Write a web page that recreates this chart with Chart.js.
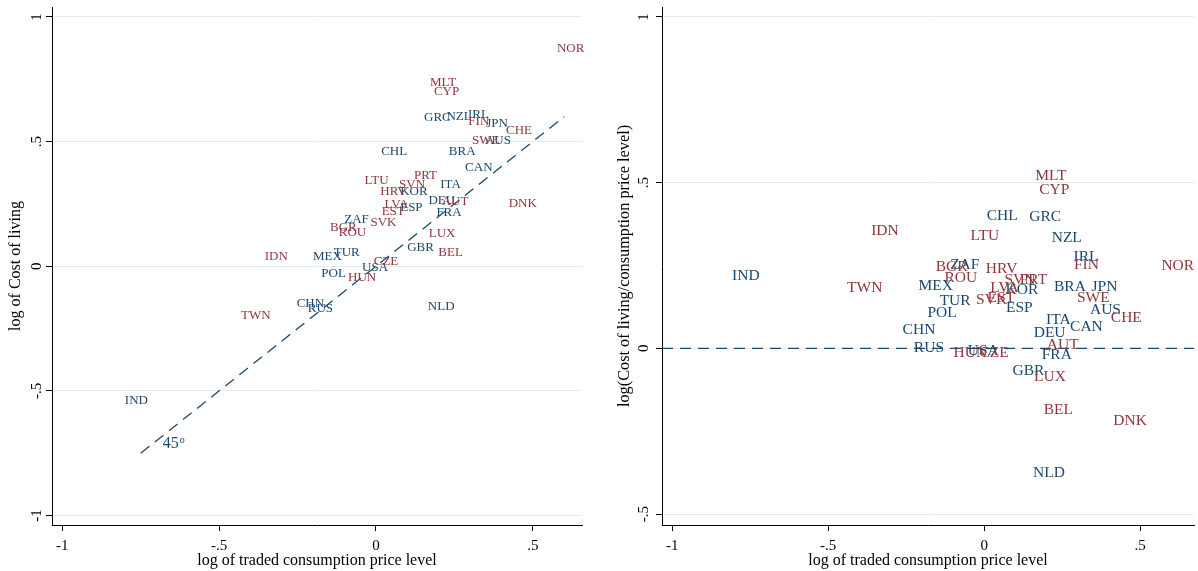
<!DOCTYPE html>
<html>
<head>
<meta charset="utf-8">
<script src="https://cdn.jsdelivr.net/npm/chart.js@4.4.0/dist/chart.umd.min.js"></script>
<style>
  body { margin: 0; background: #fff; }
  #wrap { position: relative; width: 1198px; height: 571px; }
  #left { position: absolute; left: 0; top: 0; }
  #right { position: absolute; left: 600px; top: 0; }
</style>
</head>
<body>
<div id="wrap">
  <canvas id="left" width="600" height="571"></canvas>
  <canvas id="right" width="598" height="571"></canvas>
</div>
<script>
// 数据
const countries = ['NOR','MLT','CYP','GRC','NZL','IRL','FIN','JPN','CHE','SWE','AUS','CHL','BRA','CAN','LTU','PRT','SVN','ITA','HRV','KOR','DEU','AUT','DNK','LVA','EST','ESP','FRA','ZAF','SVK','BGR','ROU','LUX','GBR','BEL','IDN','MEX','TUR','CZE','USA','POL','HUN','CHN','RUS','NLD','TWN','IND'];
// log of traded consumption price level
const priceLevel = [0.621,0.214,0.225,0.196,0.265,0.327,0.328,0.386,0.456,0.350,0.389,0.058,0.275,0.328,0.002,0.158,0.115,0.238,0.056,0.121,0.210,0.252,0.468,0.065,0.055,0.113,0.233,-0.062,0.024,-0.104,-0.075,0.211,0.142,0.238,-0.318,-0.155,-0.093,0.032,-0.003,-0.135,-0.044,-0.209,-0.177,0.208,-0.383,-0.764];
// log of Cost of living
const costOfLiving = [0.875,0.736,0.699,0.596,0.600,0.607,0.580,0.573,0.546,0.506,0.504,0.459,0.459,0.395,0.343,0.362,0.326,0.326,0.298,0.298,0.263,0.259,0.251,0.248,0.219,0.236,0.216,0.189,0.177,0.154,0.136,0.130,0.074,0.054,0.037,0.037,0.054,0.018,-0.006,-0.031,-0.046,-0.149,-0.171,-0.162,-0.197,-0.540];
// log(Cost of living/consumption price level)
const relCost = [0.248,0.521,0.478,0.396,0.334,0.276,0.251,0.184,0.091,0.151,0.116,0.400,0.184,0.065,0.339,0.206,0.206,0.085,0.240,0.176,0.047,0.010,-0.219,0.181,0.151,0.123,-0.020,0.251,0.146,0.246,0.214,-0.086,-0.068,-0.186,0.355,0.188,0.144,-0.015,-0.007,0.106,-0.013,0.055,0.000,-0.375,0.181,0.220];
// 红色标签的国家
const redGroup = ['NOR','MLT','CYP','FIN','CHE','SWE','LTU','PRT','SVN','HRV','AUT','DNK','LVA','EST','SVK','BGR','ROU','LUX','BEL','IDN','CZE','HUN','TWN'];

const xTicks = [-1, -0.5, 0, 0.5];
const yTicksLeft = [-1, -0.5, 0, 0.5, 1];
const yTicksRight = [-0.5, 0, 0.5, 1];
const line45 = [-0.75, 0.6];      // 45度线的起点和终点
const note45 = { x: -0.68, y: -0.73 };

const serif = "'Liberation Serif', 'Times New Roman', serif";
const navy = '#1a476f';
const maroon = '#90353b';
const gridColor = '#e4eded';

function fmt(v) {
    if (v === 0) return '0';
    return String(v).replace('0.', '.');
}

function points(ys, red) {
    const out = [];
    countries.forEach((c, i) => {
        if (redGroup.includes(c) === red) out.push({ x: priceLevel[i], y: ys[i], label: c });
    });
    return out;
}

// 文字绘制插件
const stataText = {
    id: 'stataText',
    afterDatasetsDraw(chart) {
        const ctx = chart.ctx;
        const o = chart.options.plugins.stataText;
        ctx.save();
        ctx.font = o.labelSize + 'px ' + serif;
        ctx.textAlign = 'center';
        ctx.textBaseline = 'middle';
        chart.data.datasets.forEach((ds, i) => {
            if (!ds.textColor) return;
            const meta = chart.getDatasetMeta(i);
            ctx.fillStyle = ds.textColor;
            meta.data.forEach((pt, j) => ctx.fillText(ds.data[j].label, pt.x, pt.y));
        });
        ctx.restore();
    },
    afterDraw(chart) {
        const ctx = chart.ctx;
        const o = chart.options.plugins.stataText;
        const xs = chart.scales.x, ys = chart.scales.y, area = chart.chartArea;
        ctx.save();
        ctx.fillStyle = '#000';
        ctx.font = o.tickSize + 'px ' + serif;
        ctx.textAlign = 'center';
        ctx.textBaseline = 'middle';
        xTicks.forEach(v => ctx.fillText(fmt(v), xs.getPixelForValue(v), o.xTickY));
        o.yTicks.forEach(v => {
            ctx.save();
            ctx.translate(o.yTickX, ys.getPixelForValue(v));
            ctx.rotate(-Math.PI / 2);
            ctx.textBaseline = 'alphabetic';
            ctx.fillText(fmt(v), 0, 0);
            ctx.restore();
        });
        ctx.font = o.titleSize + 'px ' + serif;
        ctx.fillText(o.xTitle, (area.left + area.right) / 2, o.xTitleY);
        ctx.save();
        ctx.translate(o.yTitleX, (area.top + area.bottom) / 2);
        ctx.rotate(-Math.PI / 2);
        ctx.textBaseline = 'alphabetic';
        ctx.font = o.yTitleSize + 'px ' + serif;
        ctx.fillText(o.yTitle, 0, 0);
        ctx.restore();

        if (o.note) {
            const px = xs.getPixelForValue(o.note.x);
            const py = ys.getPixelForValue(o.note.y);
            ctx.fillStyle = navy;
            ctx.textAlign = 'left';
            ctx.textBaseline = 'alphabetic';
            ctx.font = '16px ' + serif;
            ctx.fillText('45', px, py);
            const w = ctx.measureText('45').width;
            ctx.font = '10px ' + serif;
            ctx.fillText('o', px + w + 1, py - 5);
        }
        ctx.restore();
    }
};

function makeChart(id, cfg) {
    return new Chart(document.getElementById(id), {
        type: 'scatter',
        data: {
            datasets: [
                {
                    data: cfg.line,
                    showLine: true,
                    borderColor: navy,
                    borderWidth: 1.3,
                    borderDash: [11, 7],
                    pointRadius: 0,
                    fill: false
                },
                { data: points(cfg.ys, false), pointRadius: 0, textColor: navy },
                { data: points(cfg.ys, true), pointRadius: 0, textColor: maroon }
            ]
        },
        options: {
            responsive: false,
            devicePixelRatio: 1,
            animation: false,
            layout: { padding: { left: 0, top: 7, right: cfg.padRight, bottom: 0 } },
            plugins: {
                legend: { display: false },
                tooltip: { enabled: false },
                stataText: cfg.text
            },
            scales: {
                x: {
                    type: 'linear',
                    min: cfg.xMin,
                    max: cfg.xMax,
                    afterBuildTicks: s => { s.ticks = xTicks.map(v => ({ value: v })); },
                    afterFit: s => { s.height = 46; },
                    ticks: { display: false },
                    grid: { drawOnChartArea: false, drawTicks: true, tickLength: 6, tickColor: '#000', tickWidth: 1 },
                    border: { display: true, color: '#000', width: 1 }
                },
                y: {
                    type: 'linear',
                    min: cfg.yMin,
                    max: cfg.yMax,
                    afterBuildTicks: s => { s.ticks = cfg.yTicks.map(v => ({ value: v })); },
                    afterFit: s => { s.width = cfg.yWidth; },
                    ticks: { display: false },
                    grid: { color: gridColor, lineWidth: 1, drawTicks: true, tickLength: 6, tickColor: '#000', tickWidth: 1 },
                    border: { display: true, color: '#000', width: 1 }
                }
            }
        },
        plugins: [stataText]
    });
}

// 左图
makeChart('left', {
    ys: costOfLiving,
    line: [{ x: line45[0], y: line45[0] }, { x: line45[1], y: line45[1] }],
    xMin: -1.033, xMax: 0.657, yMin: -1.038, yMax: 1.04,
    yTicks: yTicksLeft, yWidth: 52, padRight: 18,
    text: {
        labelSize: 13, tickSize: 15, titleSize: 16, yTitleSize: 16,
        xTickY: 546, yTickX: 41, xTitleY: 561, yTitleX: 20,
        yTicks: yTicksLeft,
        xTitle: 'log of traded consumption price level',
        yTitle: 'log of Cost of living',
        note: note45
    }
});

// 右图
makeChart('right', {
    ys: relCost,
    line: [{ x: -1.033, y: 0 }, { x: 0.673, y: 0 }],
    xMin: -1.033, xMax: 0.673, yMin: -0.533, yMax: 1.03,
    yTicks: yTicksRight, yWidth: 62, padRight: 4,
    text: {
        labelSize: 15.5, tickSize: 15, titleSize: 16, yTitleSize: 16.3,
        xTickY: 546, yTickX: 48, xTitleY: 561, yTitleX: 29,
        yTicks: yTicksRight,
        xTitle: 'log of traded consumption price level',
        yTitle: 'log(Cost of living/consumption price level)',
        note: null
    }
});
</script>
</body>
</html>
